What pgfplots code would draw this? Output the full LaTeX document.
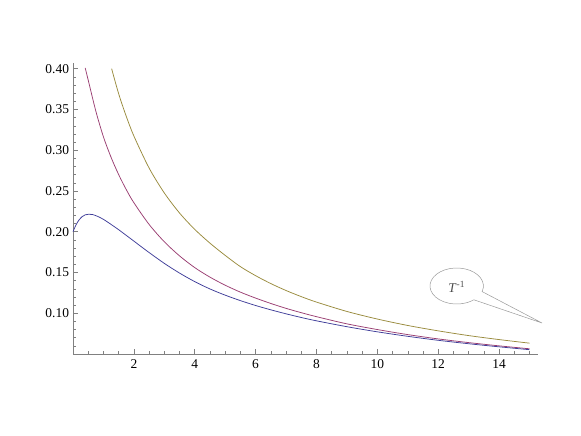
\documentclass[border=0pt]{standalone}
\usepackage{pgfplots}
\pgfplotsset{compat=1.18}
\usepackage{fontspec}
\setmainfont{Liberation Serif}
\definecolor{mblue}{rgb}{0.247,0.24,0.6}
\definecolor{mred}{rgb}{0.6,0.24,0.443}
\definecolor{mgold}{rgb}{0.6,0.547,0.24}
\definecolor{axgray}{gray}{0.5}
\newcommand{\tlfont}{\fontsize{13.5}{15}\selectfont}
\begin{document}
\begin{tikzpicture}
\useasboundingbox (0,0) rectangle (581bp,436bp);
\begin{axis}[
  at={(73bp,82bp)}, anchor=south west,
  scale only axis, width=465bp, height=291bp,
  xmin=0, xmax=15.28, ymin=0.05, ymax=0.407,
  axis x line=bottom, axis y line=left,
  axis line style={axgray, line width=0.6bp, -},
  xtick={2,4,...,14},
  minor xtick={0.5,1,1.5,2.5,3,3.5,4.5,5,5.5,6.5,7,7.5,8.5,9,9.5,10.5,11,11.5,12.5,13,13.5,14.5,15},
  ytick={0.10,0.15,0.20,0.25,0.30,0.35,0.40},
  minor ytick={0.06,0.07,0.08,0.09,0.11,0.12,0.13,0.14,0.16,0.17,0.18,0.19,0.21,0.22,0.23,0.24,0.26,0.27,0.28,0.29,0.31,0.32,0.33,0.34,0.36,0.37,0.38,0.39},
  tick align=inside,
  major tick length=4.5bp, minor tick length=2.8bp,
  tick style={axgray, line width=0.5bp},
  /pgf/number format/assume math mode=true,
  yticklabel style={/pgf/number format/fixed, /pgf/number format/fixed zerofill, /pgf/number format/precision=2, /pgf/number format/assume math mode=true, xshift=-0.5bp, font=\tlfont, text=black},
  xticklabel style={/pgf/number format/assume math mode=true, yshift=-2.5bp, font=\tlfont, text=black},
  clip=false,
]
\addplot[mgold, line width=0.75bp, smooth, tension=0.5] coordinates {
(1.27,0.400)(1.4,0.3823)(1.54,0.3645)(1.75,0.3416)(2,0.3175)(2.5,0.2782)(3,0.2476)
(3.5,0.2230)(4,0.2029)(4.5,0.1860)(5,0.1710)(5.5,0.1572)(6,0.1461)(6.5,0.1364)
(7,0.1279)(7.5,0.1204)(8,0.1137)(9,0.1022)(10,0.0929)(11,0.0850)(12,0.0784)
(13,0.0726)(14,0.0677)(15,0.0633)};
\addplot[mred, line width=0.75bp, smooth, tension=0.5] coordinates {
(0.40,0.401)(0.5,0.386)(0.75,0.348)(1,0.3164)(1.25,0.2914)(1.5,0.2701)(1.75,0.2517)
(2,0.2356)(2.5,0.209)(3,0.1877)(3.5,0.1704)(4,0.1560)(4.5,0.1443)(5,0.1344)
(5.5,0.1259)(6,0.1186)(6.5,0.1120)(7,0.1060)(7.5,0.1007)(8,0.0958)(9,0.0870)
(10,0.0800)(11,0.0738)(12,0.0685)(13,0.0640)(14,0.0600)(15,0.0564)};
\addplot[mblue, line width=0.75bp, smooth, tension=0.5] coordinates {
(0,0.200)(0.1,0.2085)(0.2,0.2145)(0.3,0.2185)(0.4,0.2207)(0.52,0.2215)(0.65,0.221)
(0.8,0.219)(1,0.2152)(1.25,0.209)(1.5,0.2025)(1.75,0.1955)(2,0.1885)(2.5,0.1745)
(3,0.1612)(3.5,0.1493)(4,0.1388)(4.5,0.1298)(5,0.1222)(5.5,0.1155)(6,0.1095)
(6.5,0.1042)(7,0.0993)(7.5,0.0948)(8,0.0907)(9,0.0835)(10,0.0772)(11,0.0717)
(12,0.0668)(13,0.0626)(14,0.0588)(15,0.0553)};
\end{axis}
% callout bubble
\draw[gray!80, line width=0.5bp] (542bp,113bp) -- ([shift={(-18:26.7bp and 18bp)}]456.7bp,150bp)
  arc[start angle=-18, end angle=310, x radius=26.7bp, y radius=18bp] -- cycle;
\node[text=black!70, font=\fontsize{13.5}{15}\selectfont] at (456.7bp,149bp) {\textit{T}\textsuperscript{-1}};
\end{tikzpicture}
\end{document}
